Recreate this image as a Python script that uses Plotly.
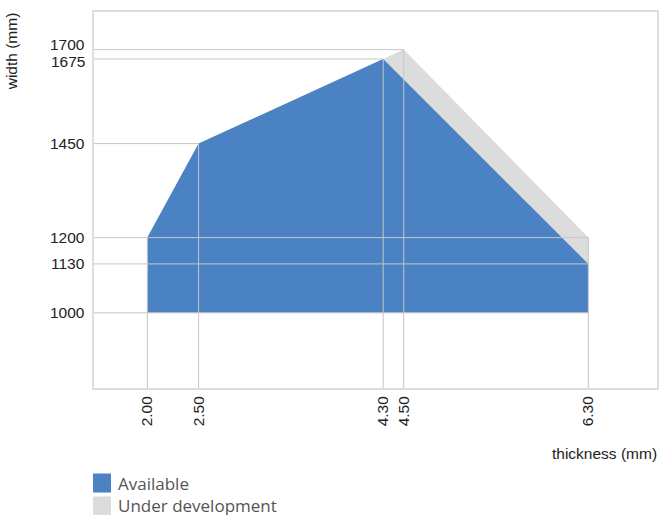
import plotly.graph_objects as go

# Data
avail_thickness = [2.00, 2.00, 2.50, 4.30, 6.30, 6.30, 2.00]
avail_width = [1000, 1200, 1450, 1675, 1130, 1000, 1000]
dev_thickness = [2.00, 2.00, 2.50, 4.50, 6.30, 6.30, 2.00]
dev_width = [1000, 1200, 1450, 1700, 1200, 1000, 1000]

x_ticks = [2.00, 2.50, 4.30, 4.50, 6.30]
x_tick_top = [1200, 1450, 1675, 1700, 1200]      # vertical guide ends
y_ticks = [1000, 1130, 1200, 1450, 1675, 1700]
y_tick_right = [6.30, 6.30, 6.30, 2.50, 4.30, 4.50]  # horizontal guide ends

X_MIN, X_MAX = 1.48, 6.97
Y_MIN, Y_MAX = 800, 1800

BLUE = "#4a82c3"
GREY = "#dcdcde"
GRID = "#c6c6c6"
FONT = "Liberation Sans, Arial"
FS = 15.5

fig = go.Figure()
fig.add_trace(go.Scatter(x=dev_thickness, y=dev_width, fill="toself", mode="lines",
                         line=dict(width=0, color=GREY), fillcolor=GREY,
                         name="Under development", hoverinfo="skip"))
fig.add_trace(go.Scatter(x=avail_thickness, y=avail_width, fill="toself", mode="lines",
                         line=dict(width=0, color=BLUE), fillcolor=BLUE,
                         name="Available", hoverinfo="skip"))

# guide lines
for xv, yt in zip(x_ticks, x_tick_top):
    fig.add_trace(go.Scatter(x=[xv, xv], y=[Y_MIN, yt], mode="lines",
                             line=dict(color=GRID, width=1), hoverinfo="skip"))
for yv, xr in zip(y_ticks, y_tick_right):
    fig.add_trace(go.Scatter(x=[X_MIN, xr], y=[yv, yv], mode="lines",
                             line=dict(color=GRID, width=1), hoverinfo="skip"))

font_ticks = dict(family=FONT, size=FS, color="#222")

fig.update_xaxes(range=[X_MIN, X_MAX], tickvals=x_ticks,
                 ticktext=[f"{v:.2f}" for v in x_ticks], tickangle=-90,
                 showgrid=False, zeroline=False, ticks="", tickfont=font_ticks,
                 showline=True, mirror=True, linecolor="#dedede", linewidth=2,
                 ticklabelstandoff=0, automargin=False)
fig.update_yaxes(range=[Y_MIN, Y_MAX], showticklabels=False,
                 showgrid=False, zeroline=False, ticks="",
                 showline=True, mirror=True, linecolor="#dedede", linewidth=2,
                 automargin=False)

# y tick labels (nudged apart where they crowd)
y_label_shift = {1700: 5, 1675: -2}
for yv in y_ticks:
    fig.add_annotation(text=str(yv), xref="paper", yref="y", x=0, y=yv,
                       xanchor="right", yanchor="middle", xshift=-7,
                       yshift=y_label_shift.get(yv, 0), showarrow=False,
                       font=font_ticks)

# plot area in pixels: x 94..657, y 12..388 (563 x 376)
fig.add_annotation(text="width (mm)", xref="paper", yref="paper", x=-0.146, y=0.895,
                   xanchor="center", yanchor="middle", textangle=-90, showarrow=False,
                   font=dict(family=FONT, size=FS, color="#222"))
fig.add_annotation(text="thickness (mm)", xref="paper", yref="paper", x=1.0035, y=-0.1729,
                   xanchor="right", yanchor="middle", showarrow=False,
                   font=dict(family=FONT, size=FS, color="#222"))

# custom legend
legend_items = [("Available", BLUE), ("Under development", GREY)]
legend_y = [-0.2527, -0.3138]
for (label, col), yc in zip(legend_items, legend_y):
    fig.add_shape(type="rect", xref="paper", yref="paper",
                  x0=-0.0018, x1=0.0302, y0=yc - 0.0253, y1=yc + 0.0253,
                  fillcolor=col, line=dict(width=0))
    fig.add_annotation(text=label, xref="paper", yref="paper", x=0.0391, y=yc,
                       xanchor="left", yanchor="middle", showarrow=False,
                       font=dict(family="Open Sans", size=17, color="#555"))

fig.update_layout(width=660, height=515, showlegend=False,
                  plot_bgcolor="white", paper_bgcolor="white",
                  margin=dict(l=94, r=3, t=12, b=127))

fig.write_html("out.html", config={"displayModeBar": False},
               post_script="document.body.style.margin='0';"
                           "document.documentElement.style.overflow='hidden';"
                           "document.body.style.overflow='hidden';")
